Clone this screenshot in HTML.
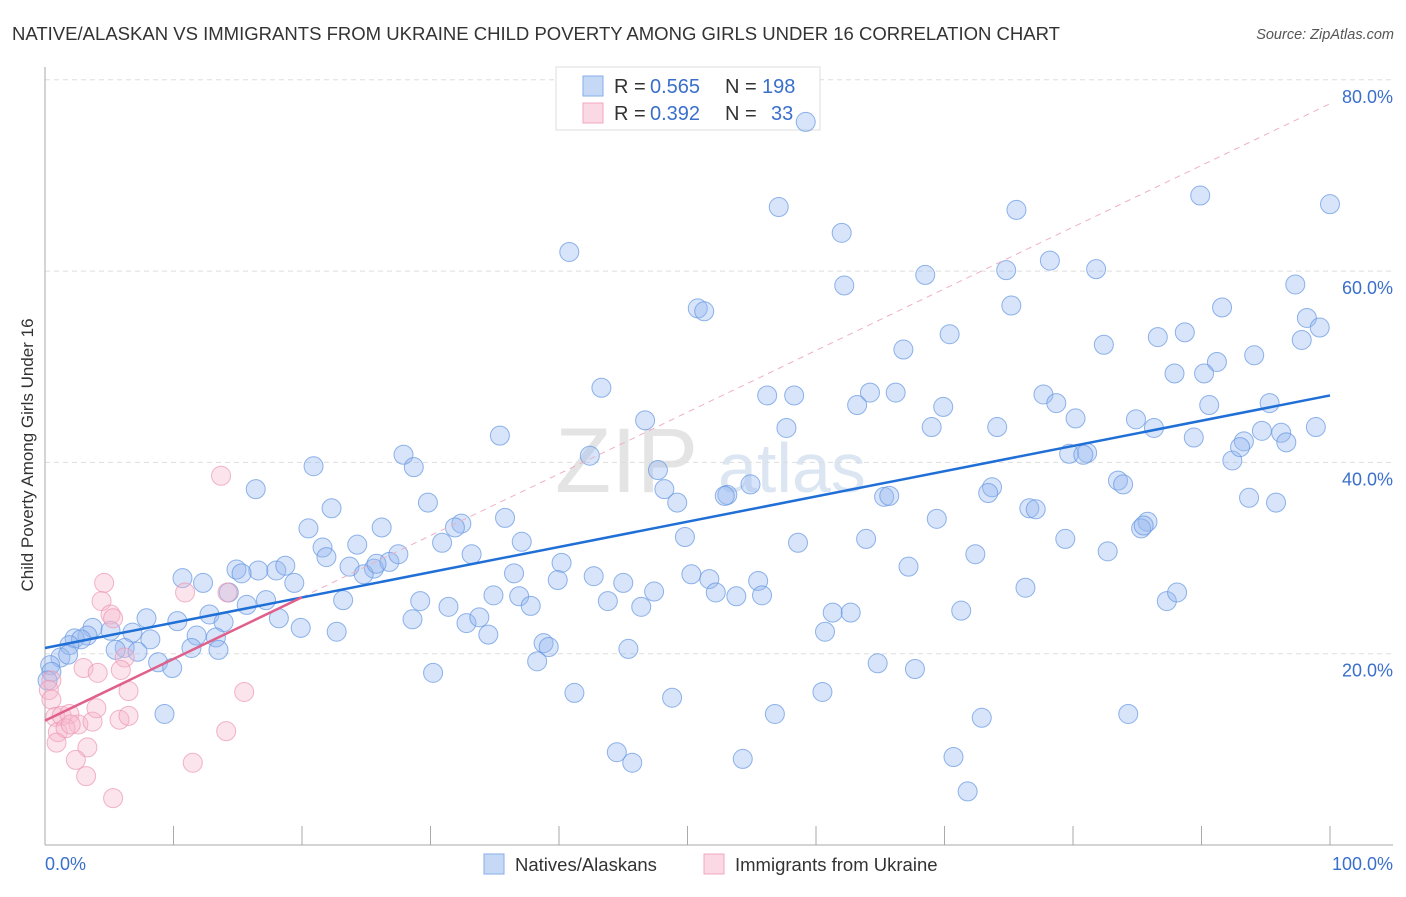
<!DOCTYPE html>
<html><head><meta charset="utf-8">
<style>
body{margin:0;background:#fff;font-family:"Liberation Sans",sans-serif;}
svg text{font-family:"Liberation Sans",sans-serif;}
</style></head>
<body>
<svg id="chart" width="1406" height="892" viewBox="0 0 1406 892" xmlns="http://www.w3.org/2000/svg">
<text x="12" y="40" font-size="18.4" fill="#333" textLength="1048" lengthAdjust="spacingAndGlyphs">NATIVE/ALASKAN VS IMMIGRANTS FROM UKRAINE CHILD POVERTY AMONG GIRLS UNDER 16 CORRELATION CHART</text>
<text x="1394" y="39" font-size="14.5" fill="#555" font-style="italic" text-anchor="end">Source: ZipAtlas.com</text>
<g>
<text x="555" y="492" font-size="92" fill="#e4e4e4" font-family="Liberation Serif, serif">ZIP</text>
<text x="718" y="492" font-size="70" fill="#dce6f3">atlas</text>
</g>
<g id="grid"></g>
<g id="axes"></g>
<g>
<rect x="556" y="67" width="264" height="63" fill="#fff" stroke="#ddd"/>
<rect x="583" y="76" width="20" height="20" fill="rgba(150,185,240,0.55)" stroke="#86aee8"/>
<rect x="583" y="103" width="20" height="20" fill="rgba(248,185,205,0.55)" stroke="#f0a8c0"/>
<text x="614" y="93" font-size="20" fill="#333">R =</text>
<text x="650" y="93" font-size="20" fill="#3a6fcc">0.565</text>
<text x="725" y="93" font-size="20" fill="#333">N =</text>
<text x="762" y="93" font-size="20" fill="#3a6fcc">198</text>
<text x="614" y="120" font-size="20" fill="#333">R =</text>
<text x="650" y="120" font-size="20" fill="#3a6fcc">0.392</text>
<text x="725" y="120" font-size="20" fill="#333">N =</text>
<text x="771" y="120" font-size="20" fill="#3a6fcc">33</text>
</g>
<g id="marks"></g>
<g id="trends"></g>
<text transform="translate(33,455) rotate(-90)" font-size="17" fill="#333" text-anchor="middle">Child Poverty Among Girls Under 16</text>
<g>
<rect x="484" y="854" width="20" height="20" fill="rgba(150,185,240,0.55)" stroke="#86aee8"/>
<text x="515" y="871" font-size="18.5" fill="#333">Natives/Alaskans</text>
<rect x="704" y="854" width="20" height="20" fill="rgba(248,185,205,0.55)" stroke="#f0a8c0"/>
<text x="735" y="871" font-size="18.5" fill="#333">Immigrants from Ukraine</text>
</g>
</svg>
<script>
const blueX=[59.2,40.8,57.1,62.0,75.6,89.9,100,62.2,68.5,74.8,78.2,81.8,75.2,50.8,51.3,70.4,66.8,82.4,86.6,88.7,91.6,97.3,98.2,99.2,97.8,94.1,91.2,90.2,87.9,43.3,56.2,58.3,64.2,66.2,63.2,69.9,77.7,78.7,80.2,84.9,86.3,90.6,95.3,46.7,57.7,69.0,74.1,89.4,93.3,94.7,96.2,96.6,98.9,35.4,27.9,28.7,42.4,47.7,48.2,49.2,53.1,54.9,52.9,65.3,65.7,79.7,81.1,80.8,92.4,93.0,83.5,83.9,73.7,73.4,76.6,77.1,93.7,95.8,85.8,85.3,16.4,20.9,22.3,20.5,29.8,35.8,32.4,31.9,26.2,24.3,21.6,21.9,30.9,33.2,37.1,49.8,58.6,63.9,69.4,72.4,79.4,82.7,85.5,14.9,16.6,18.0,18.7,15.3,19.4,23.7,25.6,26.8,27.5,24.8,25.8,36.5,40.2,39.9,42.7,45.0,50.3,51.7,55.5,67.2,10.7,12.3,14.3,17.2,15.7,23.2,29.2,34.9,36.9,37.8,43.8,46.4,47.4,52.2,53.8,55.8,61.3,62.7,76.3,87.3,88.1,71.3,7.9,10.3,12.8,13.9,28.6,31.4,32.8,33.8,34.5,18.2,19.9,22.7,3.7,5.1,6.8,8.2,11.8,13.3,3.3,2.3,2.8,6.2,5.5,7.2,11.4,38.8,39.2,45.4,60.7,38.3,8.8,9.9,13.5,30.2,64.8,67.7,41.2,48.8,60.5,9.3,56.8,72.9,84.3,44.5,45.7,54.3,70.7,71.8,1.9,1.2,1.8,0.4,0.5,0.2];
const blueY=[75.6,62.0,66.7,64.0,66.4,67.9,67.0,58.5,59.6,60.1,61.1,60.2,56.4,56.1,55.8,53.4,51.8,52.3,53.1,53.6,56.2,58.6,55.1,54.1,52.8,51.2,50.5,49.3,49.3,47.8,47.0,47.0,47.3,47.3,46.0,45.8,47.1,46.2,44.6,44.5,43.6,46.0,46.2,44.4,43.6,43.7,43.7,42.6,42.2,43.3,43.1,42.1,43.7,42.8,40.8,39.5,40.7,39.2,37.2,35.8,36.6,37.7,36.5,36.4,36.5,40.9,41.0,40.8,40.2,41.6,38.1,37.7,37.4,36.8,35.2,35.1,36.3,35.8,33.8,33.1,37.2,39.6,35.2,33.1,35.8,34.2,33.6,33.2,33.2,31.4,31.1,30.1,31.6,30.4,31.7,32.2,31.6,32.0,34.1,30.4,32.0,30.7,33.4,28.8,28.7,28.7,29.2,28.4,27.4,29.1,28.9,29.6,30.4,28.3,29.4,28.4,29.5,27.7,28.1,27.4,28.3,27.8,27.6,29.1,27.9,27.4,26.4,25.6,25.1,25.6,25.5,26.1,26.0,25.0,25.5,24.9,26.5,26.4,26.0,26.1,24.3,24.3,26.9,25.5,26.4,24.5,23.7,23.4,24.1,23.3,23.6,24.9,23.2,23.8,22.0,23.7,22.7,22.3,22.7,22.4,22.2,21.5,21.9,21.7,21.9,21.6,21.5,20.6,20.4,20.2,20.6,21.1,20.7,20.5,22.3,19.2,19.1,18.5,20.4,18.0,19.0,18.4,15.9,15.4,16.0,13.7,13.7,13.3,13.7,9.7,8.6,9.0,9.2,5.6,20.9,19.6,19.9,18.8,18.1,17.2];
const pinkX=[13.7,4.6,4.4,10.9,14.2,5.1,5.3,6.2,5.9,3.0,4.1,0.5,0.3,0.5,6.5,15.5,0.8,1.3,1.9,2.6,3.7,4.0,1.0,1.6,2.0,5.8,6.5,14.1,0.9,3.3,2.4,3.2,11.5,5.3];
const pinkY=[38.6,27.4,25.5,26.4,26.4,24.1,23.7,19.6,18.3,18.5,18.0,17.2,16.2,15.2,16.1,16.0,13.4,13.5,13.7,12.6,12.9,14.3,11.8,12.2,12.6,13.1,13.5,11.9,10.7,10.2,8.9,7.2,8.6,4.9];
const blueTrend=[20.6,47.0];
const pinkTrend=[13.0,25.9];
const yTicks=[20,40,60,80];
const yTickLabels=["20.0%","40.0%","60.0%","80.0%"];
const xTicks=[0,10,20,30,40,50,60,70,80,90,100];

const NS="http://www.w3.org/2000/svg";
const xs=v=>45+v*12.85;
const ys=v=>845-v*9.565;
function mk(tag,attrs,parent){const e=document.createElementNS(NS,tag);for(const k in attrs)e.setAttribute(k,attrs[k]);parent.appendChild(e);return e;}
const grid=document.getElementById('grid'),axes=document.getElementById('axes'),marks=document.getElementById('marks'),trends=document.getElementById('trends');
yTicks.forEach((t,i)=>{
  const l=mk('line',{x1:45,x2:1393,y1:ys(t),y2:ys(t),stroke:'#ddd','stroke-dasharray':'5,4'},grid);
  
  
  const tx=mk('text',{x:1393,y:ys(t)+23,'font-size':18,fill:'#3a6fcc','text-anchor':'end'},axes);
  tx.textContent=yTickLabels[i];
  
  
});
const ax=mk('line',{x1:45,x2:45,y1:67,y2:845,stroke:'#aaa'},axes);


const bx=mk('line',{x1:45,x2:1393,y1:845,y2:845,stroke:'#aaa'},axes);


xTicks.forEach(t=>{if(t===0)return;
  const l=mk('line',{x1:xs(t),x2:xs(t),y1:826,y2:845,stroke:'#aaa'},axes);
  
  
});
const x0=mk('text',{x:45,y:870,'font-size':18,fill:'#3a6fcc'},axes);x0.textContent='0.0%';


const x1=mk('text',{x:1393,y:870,'font-size':18,fill:'#3a6fcc','text-anchor':'end'},axes);x1.textContent='100.0%';



blueX.forEach((v,i)=>{
  const c=mk('circle',{cx:xs(v),cy:ys(blueY[i]),r:9.5,fill:'rgba(150,185,240,0.38)',stroke:'rgba(100,150,225,0.7)','stroke-width':1},marks);
  
  
});
pinkX.forEach((v,i)=>{
  const c=mk('circle',{cx:xs(v),cy:ys(pinkY[i]),r:9.5,fill:'rgba(248,185,205,0.38)',stroke:'rgba(235,150,180,0.7)','stroke-width':1},marks);
  
  
});
const ps=(pinkTrend[1]-pinkTrend[0])/20;
const pd=mk('line',{x1:xs(20),y1:ys(pinkTrend[1]),x2:xs(100),y2:ys(pinkTrend[0]+ps*100),stroke:'#eeb0c4','stroke-width':1,'stroke-dasharray':'6,5'},trends);


const bl=mk('line',{x1:xs(0),y1:ys(blueTrend[0]),x2:xs(100),y2:ys(blueTrend[1]),stroke:'#1f6fd6','stroke-width':2.5},trends);


const pl=mk('line',{x1:xs(0),y1:ys(pinkTrend[0]),x2:xs(20),y2:ys(pinkTrend[1]),stroke:'#e0608c','stroke-width':2.5},trends);


</script>
</body></html>
